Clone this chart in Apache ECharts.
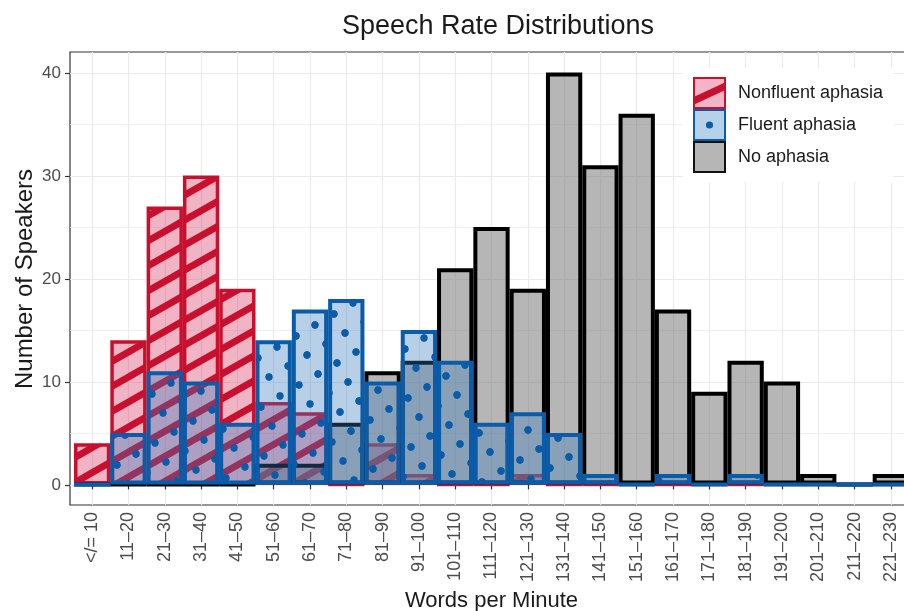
<!DOCTYPE html>
<html><head><meta charset="utf-8">
<script src="https://cdn.jsdelivr.net/npm/echarts@6/dist/echarts.min.js"></script>
<style>html,body{margin:0;padding:0;background:#fff}#c{width:904px;height:611px}</style>
</head><body><div id="c"></div>
<script>
const categories = ['</= 10','11–20','21–30','31–40','41–50','51–60','61–70','71–80','81–90','91–100','101–110','111–120','121–130','131–140','141–150','151–160','161–170','171–180','181–190','191–200','201–210','211–220','221–230'];
const nonfluent = [4,14,27,30,19,8,7,0,4,1,0,0,1,0,0,0,0,0,0,0,0,0,0];
const fluent    = [0,5,11,10,6,14,17,18,10,15,12,6,7,5,1,0,1,0,1,0,0,0,0];
const noAphasia = [0,0,0,0,0,2,2,6,11,12,21,25,19,40,31,36,17,9,12,10,1,0,1];
const yTicks = [0,10,20,30,40];
const seriesNames = ['Nonfluent aphasia','Fluent aphasia','No aphasia'];

const RED='#c8102e', BLUE='#0b5ca8';
const FONT='"Liberation Sans", Arial, Helvetica, sans-serif';

function stripeTile(){
  const c=document.createElement('canvas'); c.width=44; c.height=25;
  const g=c.getContext('2d');
  g.fillStyle='rgba(215,40,85,0.35)'; g.fillRect(0,0,44,25);
  g.strokeStyle=RED; g.lineWidth=6.8;
  for(let k=-2;k<=3;k++){const y0=k*25; g.beginPath(); g.moveTo(-44,y0+25); g.lineTo(88,y0-50); g.stroke();}
  return c;
}
function dotTile(){
  const S=482; const c=document.createElement('canvas'); c.width=S; c.height=S;
  const g=c.getContext('2d');
  g.fillStyle='rgba(50,120,190,0.35)'; g.fillRect(0,0,S,S);
  g.fillStyle=BLUE;
  for(let m=-15;m<=25;m++) for(let n=-5;n<=35;n++){
    const x=19*m+11*n, y=-11*m+19*n;
    for(const dx of [-S,0,S]) for(const dy of [-S,0,S]){
      const px=x+dx, py=y+dy;
      if(px>-5&&px<S+5&&py>-5&&py<S+5){g.beginPath(); g.arc(px,py,3.4,0,Math.PI*2); g.fill();}
    }
  }
  return c;
}
function iconNF(){
  const c=document.createElement('canvas'); c.width=33; c.height=32; const g=c.getContext('2d');
  g.fillStyle='#f2b5c5'; g.fillRect(0,0,33,32);
  g.save(); g.beginPath(); g.rect(0,0,33,32); g.clip();
  g.strokeStyle=RED; g.lineWidth=7; g.beginPath(); g.moveTo(-2,25); g.lineTo(35,8); g.stroke(); g.restore();
  g.strokeStyle=RED; g.lineWidth=2; g.strokeRect(1,1,31,30);
  return c.toDataURL();
}
function iconF(){
  const c=document.createElement('canvas'); c.width=33; c.height=32; const g=c.getContext('2d');
  g.fillStyle='#b7d1e8'; g.fillRect(0,0,33,32);
  g.fillStyle=BLUE; g.beginPath(); g.arc(16.5,16,3.6,0,Math.PI*2); g.fill();
  g.strokeStyle=BLUE; g.lineWidth=2; g.strokeRect(1,1,31,30);
  return c.toDataURL();
}
function iconN(){
  const c=document.createElement('canvas'); c.width=33; c.height=32; const g=c.getContext('2d');
  g.fillStyle='#b6b6b6'; g.fillRect(0,0,33,32);
  g.strokeStyle='#111'; g.lineWidth=2; g.strokeRect(1,1,31,30);
  return c.toDataURL();
}

const chart = echarts.init(document.getElementById('c'), null, {renderer:'canvas'});
const gridLine = {color:'#ebebeb', width:1.2};
const common = {type:'bar', barCategoryGap:'0%', barGap:'-100%', xAxisIndex:0, yAxisIndex:0, silent:true, emphasis:{disabled:true}};
chart.setOption({
  animation:false,
  textStyle:{fontFamily:FONT},
  title:{text:'Speech Rate Distributions', left:493, top:8, textAlign:'center',
    textStyle:{fontSize:27, fontWeight:'normal', color:'#1a1a1a', fontFamily:FONT}},
  legend:{
    orient:'vertical', left:683, top:68, padding:[9,10,9,10], backgroundColor:'#fff',
    itemWidth:33, itemHeight:32, itemGap:0, selectedMode:false, z:10,
    textStyle:{fontSize:18, color:'#1a1a1a', fontFamily:FONT, padding:[0,0,0,7]},
    data:[{name:seriesNames[0], icon:'image://'+iconNF()},{name:seriesNames[1], icon:'image://'+iconF()},{name:seriesNames[2], icon:'image://'+iconN()}]
  },
  grid:[
    {left:74, top:52, width:835, height:453, outerBoundsMode:'none', containLabel:false},
    {left:70, top:52, width:900, height:453, show:true, borderColor:'#333', borderWidth:1.2, backgroundColor:'transparent', outerBoundsMode:'none', containLabel:false},
    {left:70, top:73, width:900, height:412, outerBoundsMode:'none', containLabel:false}
  ],
  xAxis:[
    {type:'category', gridIndex:0, data:categories, position:'bottom',
      axisLine:{show:false}, axisTick:{show:true, alignWithLabel:true, length:5, lineStyle:{color:'#333', width:1.2}},
      axisLabel:{rotate:90, interval:0, fontSize:18, color:'#4d4d4d', margin:7, fontFamily:FONT},
      splitLine:{show:false},
      name:'Words per Minute', nameLocation:'middle', nameGap:84,
      nameTextStyle:{fontSize:22, color:'#1a1a1a', fontFamily:FONT}},
    {type:'value', gridIndex:0, min:0, max:categories.length, interval:1, position:'top',
      axisLine:{show:false}, axisTick:{show:false}, axisLabel:{show:false}, splitLine:{show:false},
      minorTick:{show:false, splitNumber:2}, minorSplitLine:{show:true, lineStyle:gridLine}},
    {type:'value', gridIndex:1, show:false},
    {type:'value', gridIndex:2, show:false}
  ],
  yAxis:[
    {type:'value', gridIndex:0, min:yTicks[0]-0.05*(yTicks[yTicks.length-1]-yTicks[0]), max:yTicks[yTicks.length-1]+0.05*(yTicks[yTicks.length-1]-yTicks[0]), show:false},
    {type:'value', gridIndex:1, show:false},
    {type:'value', gridIndex:2, min:yTicks[0], max:yTicks[yTicks.length-1], interval:yTicks[1]-yTicks[0],
      axisLine:{show:false}, axisTick:{show:true, length:5, lineStyle:{color:'#333', width:1.2}},
      axisLabel:{fontSize:17, color:'#4d4d4d', margin:9, fontFamily:FONT},
      splitLine:{show:true, lineStyle:gridLine},
      minorTick:{show:false, splitNumber:2}, minorSplitLine:{show:true, lineStyle:{color:'#f0f0f0', width:1}},
      name:'Number of Speakers', nameLocation:'middle', nameGap:33, nameMoveOverlap:false,
      nameTextStyle:{fontSize:24, color:'#1a1a1a', fontFamily:FONT}}
  ],
  series:[
    Object.assign({}, common, {name:seriesNames[0], data:nonfluent, itemStyle:{color:{image:stripeTile(), repeat:'repeat'}, borderColor:RED, borderWidth:3.5}}),
    Object.assign({}, common, {name:seriesNames[2], data:noAphasia, itemStyle:{color:'rgba(115,115,115,0.52)', borderColor:'#000', borderWidth:4}}),
    Object.assign({}, common, {name:seriesNames[1], data:fluent, itemStyle:{color:{image:dotTile(), repeat:'repeat'}, borderColor:BLUE, borderWidth:4}})
  ]
});
</script></body></html>
